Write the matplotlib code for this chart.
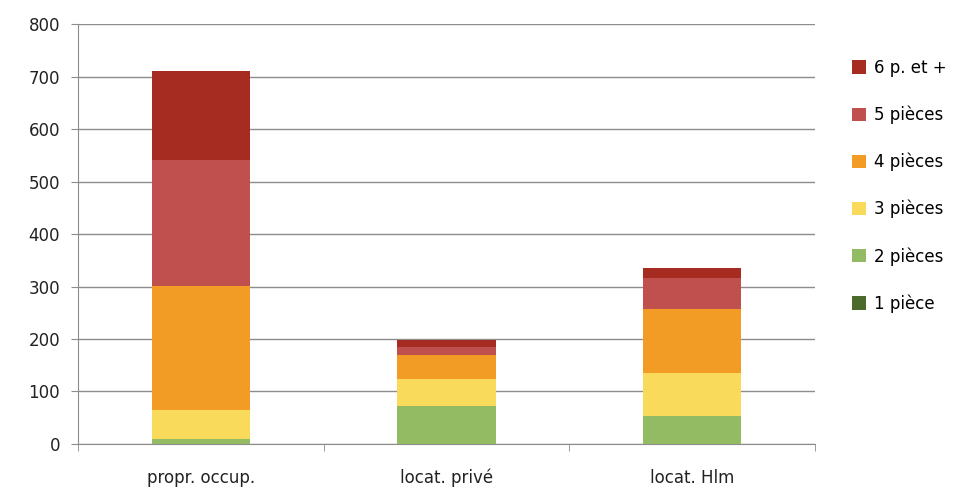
import matplotlib.pyplot as plt
import numpy as np

categories = ["propr. occup.", "locat. privé", "locat. Hlm"]
series = ["1 pièce", "2 pièces", "3 pièces", "4 pièces", "5 pièces", "6 p. et +"]
p1 = [0, 0, 0]
p2 = [9, 72, 53]
p3 = [56, 52, 83]
p4 = [236, 45, 121]
p5 = [240, 15, 59]
p6 = [169, 15, 19]
colors = ["#4B6A2C", "#93BB63", "#F9DA5B", "#F29C25", "#C0504D", "#A62B21"]

values = [p1, p2, p3, p4, p5, p6]
x = np.arange(len(categories))

fig = plt.figure(figsize=(9.67, 4.9), dpi=100)
ax = fig.add_axes([0.0807, 0.0939, 0.7621, 0.857])

bottom = np.zeros(len(categories))
handles = []
for name, vals, c in zip(series, values, colors):
    b = ax.bar(x, vals, 0.4, bottom=bottom, color=c, label=name, zorder=3)
    handles.append(b)
    bottom += np.array(vals)

ax.set_xlim(-0.5, 2.5)
ax.set_ylim(0, 800)
ax.set_yticks(np.arange(0, 801, 100))
ax.yaxis.grid(True, color="#8c8c8c", linewidth=1.0, zorder=0)
ax.set_xticks(x)
ax.set_xticklabels(categories)
ax.set_xticks([-0.5, 0.5, 1.5, 2.5], minor=True)
ax.tick_params(axis="x", which="major", length=0, pad=18, labelsize=12, labelcolor="#222222")
ax.tick_params(axis="x", which="minor", length=5, color="#8c8c8c")
ax.tick_params(axis="y", length=5, color="#8c8c8c", labelsize=12, labelcolor="#222222", pad=8)

for s in ["top", "right"]:
    ax.spines[s].set_visible(False)
for s in ["left", "bottom"]:
    ax.spines[s].set_color("#8c8c8c")

ax.legend(handles[::-1], series[::-1], loc="upper left", bbox_to_anchor=(1.041, 0.933),
          frameon=False, fontsize=12, labelspacing=1.72, handlelength=0.85,
          handleheight=0.85, handletextpad=0.45, borderaxespad=0)

fig.savefig("out.png", dpi=100)
